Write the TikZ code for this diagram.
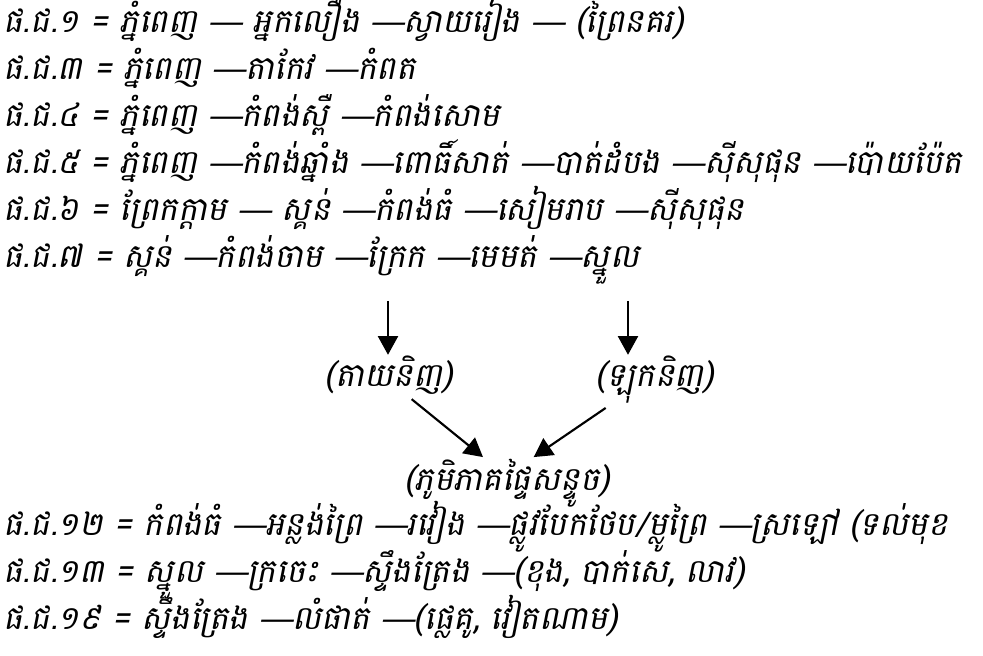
\documentclass[tikz,border=0pt]{standalone}
\usepackage{fontspec}
\usetikzlibrary{arrows.meta}
\newfontfamily\khfont[Script=Khmer,FakeSlant=0.2]{Battambang}
\newfontfamily\dashfont[FakeSlant=0.2]{Liberation Sans}
\newcommand\emd{{\dashfont —}}
\begin{document}
\begin{tikzpicture}[x=0.75pt,y=-0.75pt,
  rowtext/.style={anchor=base west, inner sep=0pt, font=\khfont\fontsize{24.5}{28}\selectfont},
  lbl/.style={anchor=base, inner sep=1pt, font=\khfont\fontsize{24.5}{28}\selectfont},
  arr/.style={line width=1.6pt, -{Triangle[length=14pt,width=15pt]}}]
\useasboundingbox (0,0) rectangle (983,656);
\node[rowtext] (r1) at (3,33) {ផ.ជ.១ = ភ្នំពេញ \emd{} អ្នកលឿង \emd ស្វាយរៀង \emd{} (ព្រៃនគរ)};
\node[rowtext] (r3) at (3,80) {ផ.ជ.៣ = ភ្នំពេញ \emd តាកែវ \emd កំពត};
\node[rowtext] (r4) at (3,127) {ផ.ជ.៤ = ភ្នំពេញ \emd កំពង់ស្ពឺ \emd កំពង់សោម};
\node[rowtext] (r5) at (3,174) {ផ.ជ.៥ = ភ្នំពេញ \emd កំពង់ឆ្នាំង \emd ពោធិ៍សាត់ \emd បាត់ដំបង \emd ស៊ីសុផុន \emd ប៉ោយប៉ែត};
\node[rowtext] (r6) at (3,221) {ផ.ជ.៦ = ព្រែកក្តាម \emd{} ស្គន់ \emd កំពង់ធំ \emd សៀមរាប \emd ស៊ីសុផុន};
\node[rowtext] (r7) at (3,268) {ផ.ជ.៧ = ស្គន់ \emd កំពង់ចាម \emd ក្រែក \emd មេមត់ \emd ស្នួល};
\coordinate (k7) at (388,301);
\coordinate (s7) at (628,301);
\node[lbl] (tn) at (389,387) {(តាយនិញ)};
\node[lbl] (ln) at (655,387) {(ឡុកនិញ)};
\node[lbl] (bot) at (507,490) {(ភូមិភាគផ្ទៃសន្ទូច)};
\draw[arr] (k7) -- (k7 |- tn.north);
\draw[arr] (s7) -- (s7 |- ln.north);
\draw[arr] ([xshift=17pt,yshift=-2pt]tn.south) -- ([xshift=-18pt]bot.north);
\draw[arr] ([xshift=-37pt,yshift=-2pt]ln.south) -- ([xshift=20pt]bot.north);
\node[rowtext] (r12) at (3,535) {ផ.ជ.១២ = កំពង់ធំ \emd អន្លង់ព្រៃ \emd រវៀង \emd ផ្លូវបែកថែប/ម្លូព្រៃ \emd ស្រឡៅ (ទល់មុខ};
\node[rowtext] (r13) at (3,582) {ផ.ជ.១៣ = ស្នួល \emd ក្រចេះ \emd ស្ទឹងត្រែង \emd (ខុង, បាក់សេ, លាវ)};
\node[rowtext] (r19) at (3,629) {ផ.ជ.១៩ = ស្ទឹងត្រែង \emd លំផាត់ \emd (ផ្លេគូ, វៀតណាម)};
\end{tikzpicture}
\end{document}
